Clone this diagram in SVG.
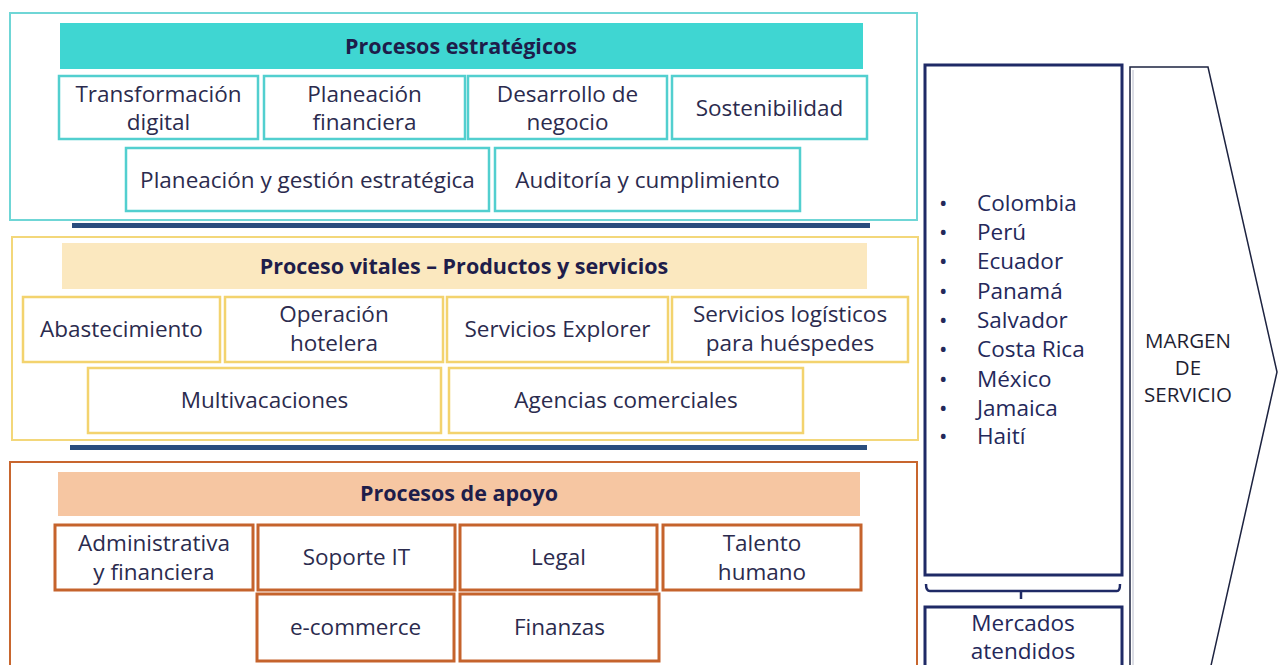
<svg xmlns="http://www.w3.org/2000/svg" width="1278" height="665" viewBox="0 0 1278 665">
<style>
text{font-family:"Open Sans","Liberation Sans",sans-serif;fill:#2b2b4e;font-size:22.5px;font-weight:500;text-anchor:middle}
.h{font-weight:bold;font-size:21.5px;fill:#1e1d4a}
.t{fill:none;stroke:#52cfcf;stroke-width:2.5}
.tp{fill:none;stroke:#6fd6d6;stroke-width:2}
.y{fill:none;stroke:#f3d36e;stroke-width:2.5}
.yp{fill:none;stroke:#f3d77a;stroke-width:2}
.o{fill:none;stroke:#c5632c;stroke-width:3}
.op{fill:none;stroke:#c8662e;stroke-width:2}
.sep{fill:#2a4d7e}
.nv{fill:#fff;stroke:#1f2a66;stroke-width:3}
.c{text-anchor:start;fill:#24285a}
.m{font-size:20.5px;fill:#1f1f33}
</style>
<rect width="1278" height="665" fill="#fff"/>
<g id="estrategicos">
<rect class="tp" x="10" y="13" width="907" height="207"/>
<rect x="60" y="23" width="803" height="46" fill="#3fd6d2"/>
<text class="h" x="461" y="54">Procesos estratégicos</text>
<g id="transformacion"><rect class="t" x="59" y="76" width="199" height="63"/><text x="158.5" y="102">Transformación</text><text x="158.5" y="130">digital</text></g>
<g id="planeacion-fin"><rect class="t" x="264" y="76" width="201" height="63"/><text x="364.5" y="102">Planeación</text><text x="364.5" y="130">financiera</text></g>
<g id="desarrollo"><rect class="t" x="468" y="76" width="199" height="63"/><text x="567.5" y="102">Desarrollo de</text><text x="567.5" y="130">negocio</text></g>
<g id="sostenibilidad"><rect class="t" x="672" y="76" width="195" height="63"/><text x="769.5" y="116">Sostenibilidad</text></g>
<g id="planeacion-gestion"><rect class="t" x="126" y="148" width="363" height="63"/><text x="307.5" y="188">Planeación y gestión estratégica</text></g>
<g id="auditoria"><rect class="t" x="495" y="148" width="305" height="63"/><text x="647.5" y="188">Auditoría y cumplimiento</text></g>
</g>
<rect class="sep" x="72" y="223" width="798" height="5"/>
<g id="vitales">
<rect class="yp" x="12" y="237" width="906" height="203"/>
<rect x="62" y="243" width="805" height="46" fill="#fbe8bf"/>
<text class="h" x="464" y="274">Proceso vitales – Productos y servicios</text>
<g id="abastecimiento"><rect class="y" x="23" y="297" width="197" height="65"/><text x="121.5" y="337">Abastecimiento</text></g>
<g id="operacion"><rect class="y" x="225" y="297" width="218" height="65"/><text x="334" y="322">Operación</text><text x="334" y="351">hotelera</text></g>
<g id="explorer"><rect class="y" x="447" y="297" width="221" height="65"/><text x="557.5" y="337">Servicios Explorer</text></g>
<g id="logisticos"><rect class="y" x="672" y="297" width="236" height="65"/><text x="790" y="322">Servicios logísticos</text><text x="790" y="351">para huéspedes</text></g>
<g id="multivacaciones"><rect class="y" x="88" y="368" width="353" height="65"/><text x="264.5" y="408">Multivacaciones</text></g>
<g id="agencias"><rect class="y" x="449" y="368" width="354" height="65"/><text x="626" y="408">Agencias comerciales</text></g>
</g>
<rect class="sep" x="70" y="445" width="797" height="5"/>
<g id="apoyo">
<rect class="op" x="10" y="462" width="907" height="210"/>
<rect x="58" y="472" width="802" height="44" fill="#f6c6a2"/>
<text class="h" x="459" y="501">Procesos de apoyo</text>
<g id="administrativa"><rect class="o" x="55" y="525" width="198" height="65"/><text x="154" y="551">Administrativa</text><text x="154" y="580">y financiera</text></g>
<g id="soporte"><rect class="o" x="258" y="525" width="197" height="65"/><text x="356.5" y="565">Soporte IT</text></g>
<g id="legal"><rect class="o" x="460" y="525" width="197" height="65"/><text x="558.5" y="565">Legal</text></g>
<g id="talento"><rect class="o" x="663" y="525" width="198" height="65"/><text x="762" y="551">Talento</text><text x="762" y="580">humano</text></g>
<g id="ecommerce"><rect class="o" x="257" y="594" width="197" height="67"/><text x="355.5" y="635">e-commerce</text></g>
<g id="finanzas"><rect class="o" x="460" y="594" width="199" height="67"/><text x="559.5" y="635">Finanzas</text></g>
</g>
<g id="margen">
<path d="M1130,67 L1208,67 L1277,372 L1210,670 L1130,670 Z" fill="#fff" stroke="#1d2340" stroke-width="1.5"/>
<line x1="1133" y1="70" x2="1133" y2="665" stroke="#b8bccb" stroke-width="1"/>
<text class="m" x="1188" y="348">MARGEN</text>
<text class="m" x="1188" y="375">DE</text>
<text class="m" x="1188" y="402">SERVICIO</text>
</g>
<g id="paises">
<rect class="nv" x="925" y="65" width="197" height="510"/>
<text class="c" x="939" y="211">•</text><text class="c" x="977" y="211">Colombia</text>
<text class="c" x="939" y="240">•</text><text class="c" x="977" y="240">Perú</text>
<text class="c" x="939" y="269">•</text><text class="c" x="977" y="269">Ecuador</text>
<text class="c" x="939" y="299">•</text><text class="c" x="977" y="299">Panamá</text>
<text class="c" x="939" y="328">•</text><text class="c" x="977" y="328">Salvador</text>
<text class="c" x="939" y="357">•</text><text class="c" x="977" y="357">Costa Rica</text>
<text class="c" x="939" y="387">•</text><text class="c" x="977" y="387">México</text>
<text class="c" x="939" y="416">•</text><text class="c" x="977" y="416">Jamaica</text>
<text class="c" x="939" y="444">•</text><text class="c" x="977" y="444">Haití</text>
</g>
<g id="connectors">
<path d="M926,584 Q926,591 930,591 L1117,591 Q1120,591 1120,584 M1021,591 L1021,599" fill="none" stroke="#1f2a66" stroke-width="2.5"/>
</g>
<g id="mercados">
<rect class="nv" x="925" y="607" width="197" height="70"/>
<text x="1023" y="631" style="fill:#24285a">Mercados</text>
<text x="1023" y="659" style="fill:#24285a">atendidos</text>
</g>
</svg>
